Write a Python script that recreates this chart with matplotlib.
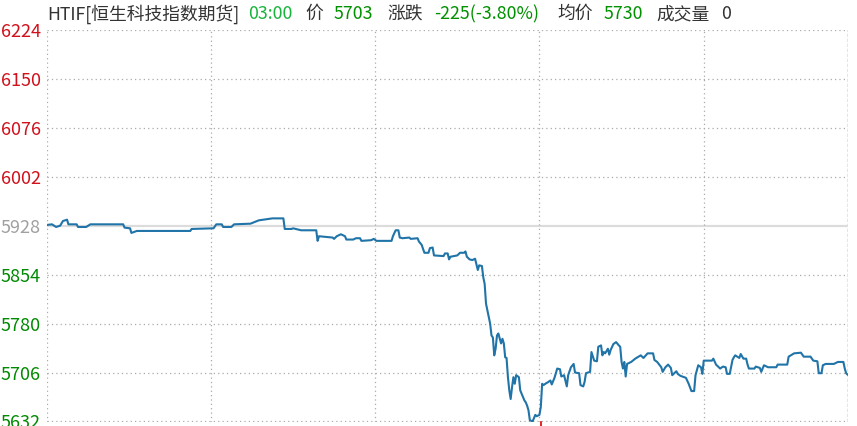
import matplotlib.pyplot as plt

plt.rcParams['font.family'] = ['Noto Sans CJK SC', 'DejaVu Sans']

# minutes since session open (17:15) and price
minutes = [0, 4, 7, 10, 12, 15, 16, 22, 23, 29, 32, 56, 57, 61, 62, 66, 105, 106, 122, 124,
           128, 129, 135, 137, 149, 155, 165, 173, 174, 179, 180, 186, 197, 198, 199, 209, 210, 212, 215, 218,
           219, 224, 226, 229, 230, 237, 239, 241, 252, 253, 255, 257, 258, 260, 265, 266, 271, 272, 274, 276,
           279, 280, 282, 283, 290, 291, 293, 294, 295, 300, 302, 305, 306, 307, 309, 311, 313, 315, 316, 318,
           319, 320, 321, 322, 324, 325, 326, 327, 328, 329, 330, 332, 333, 334, 335, 336, 337, 338, 339, 340,
           341, 342, 343, 345, 346, 347, 349, 350, 351, 352, 353, 355, 357, 358, 360, 361, 362, 363, 365, 366,
           368, 369, 371, 373, 375, 376, 378, 380, 381, 383, 385, 386, 389, 390, 392, 393, 394, 397, 398, 400,
           402, 403, 405, 406, 407, 408, 410, 411, 412, 414, 416, 418, 419, 420, 421, 422, 423, 424, 427, 430,
           434, 436, 439, 443, 444, 446, 449, 450, 452, 454, 456, 457, 460, 461, 463, 467, 469, 471, 473, 474,
           476, 478, 479, 480, 486, 487, 489, 492, 494, 496, 497, 499, 501, 502, 503, 506, 507, 509, 511, 512,
           513, 517, 518, 521, 522, 524, 527, 533, 534, 541, 542, 546, 551, 553, 558, 560, 563, 564, 566, 567,
           569, 575, 578, 582, 583, 584, 585]
prices = [5929, 5930, 5926, 5928, 5935, 5937, 5930, 5930, 5926, 5926, 5930, 5930, 5925, 5924, 5917, 5920, 5920, 5923, 5924, 5930,
          5930, 5926, 5926, 5930, 5931, 5936, 5939, 5939, 5923, 5923, 5924, 5921, 5921, 5905, 5912, 5910, 5908, 5912, 5915, 5912,
          5907, 5907, 5909, 5909, 5905, 5906, 5908, 5905, 5905, 5912, 5921, 5921, 5910, 5909, 5910, 5908, 5909, 5904, 5899, 5887,
          5887, 5894, 5895, 5883, 5882, 5886, 5886, 5877, 5881, 5883, 5887, 5887, 5889, 5881, 5877, 5876, 5878, 5861, 5868, 5867,
          5850, 5840, 5810, 5800, 5780, 5762, 5759, 5732, 5742, 5762, 5765, 5750, 5757, 5750, 5729, 5728, 5699, 5679, 5666, 5684,
          5699, 5689, 5702, 5699, 5679, 5674, 5664, 5661, 5656, 5649, 5634, 5632, 5642, 5640, 5642, 5654, 5689, 5687, 5690, 5691,
          5694, 5688, 5698, 5712, 5711, 5700, 5702, 5685, 5702, 5714, 5719, 5706, 5705, 5687, 5685, 5692, 5705, 5707, 5737, 5724,
          5723, 5745, 5747, 5732, 5737, 5735, 5742, 5733, 5740, 5749, 5752, 5747, 5745, 5722, 5712, 5722, 5700, 5719, 5722, 5727,
          5732, 5728, 5735, 5735, 5725, 5722, 5714, 5707, 5714, 5718, 5713, 5702, 5708, 5704, 5701, 5698, 5689, 5678, 5678, 5702,
          5717, 5714, 5704, 5724, 5724, 5727, 5718, 5712, 5715, 5714, 5704, 5704, 5725, 5729, 5732, 5728, 5734, 5727, 5727, 5718,
          5712, 5712, 5715, 5713, 5707, 5717, 5714, 5714, 5718, 5718, 5730, 5735, 5736, 5730, 5730, 5724, 5723, 5705, 5705, 5717,
          5719, 5719, 5722, 5722, 5712, 5705, 5703]

yticks = [5632, 5706, 5780, 5854, 5928, 6002, 6076, 6150, 6224]
prev_close = 5928
xgrid = [0, 120, 240, 360, 480]

fig = plt.figure(figsize=(8.57, 4.26), dpi=100)
ax = fig.add_axes([46.5 / 857, 1 - 421.5 / 426, 801 / 857, 391.7 / 426])

ax.plot(minutes, prices, color='#2074a8', linewidth=1.5, zorder=3)

ax.set_xlim(0, 585)
ax.set_ylim(5632, 6224)

for y in yticks:
    if y == prev_close:
        ax.axhline(y, color='#dcdcdc', linewidth=1.6, zorder=1)
    else:
        ax.axhline(y, color='#aaaaaa', linewidth=0.9, linestyle=(0, (1, 2.5)), zorder=1)
for x in xgrid:
    ax.axvline(x, color='#aaaaaa', linewidth=0.9, linestyle=(0, (1, 2.5)), zorder=1)
ax.axvline(585, color='#e0e0e0', linewidth=1.2, linestyle=(0, (2, 1)), zorder=1)

# small red marker at the bottom
ax.plot([361, 361], [-0.012, 0.0], color='#e00000', linewidth=1.2,
        transform=ax.get_xaxis_transform(), clip_on=False)

ax.set_xticks([])
ax.set_yticks(yticks)
ax.set_yticklabels([str(v) for v in yticks], fontsize=13)
ax.tick_params(axis='y', length=0, pad=4)
for lab, v in zip(ax.get_yticklabels(), yticks):
    if v > prev_close:
        lab.set_color('#d0101b')
    elif v < prev_close:
        lab.set_color('#008a00')
    else:
        lab.set_color('#a0a0a0')
for s in ax.spines.values():
    s.set_visible(False)

dark = '#333333'
header = [
    (47, 'HTIF[恒生科技指数期货]', dark),
    (248, '03:00', '#19b43c'),
    (305, '价', dark),
    (334, '5703', '#009000'),
    (387, '涨跌', dark),
    (434, '-225(-3.80%)', '#009000'),
    (557, '均价', dark),
    (604, '5730', '#009000'),
    (656, '成交量', dark),
    (721, '0', dark),
]
for x, t, c in header:
    fig.text(x / 857, 1 - 14 / 426, t, color=c, fontsize=12.8, ha='left', va='center')

plt.savefig('out.png', dpi=100)
